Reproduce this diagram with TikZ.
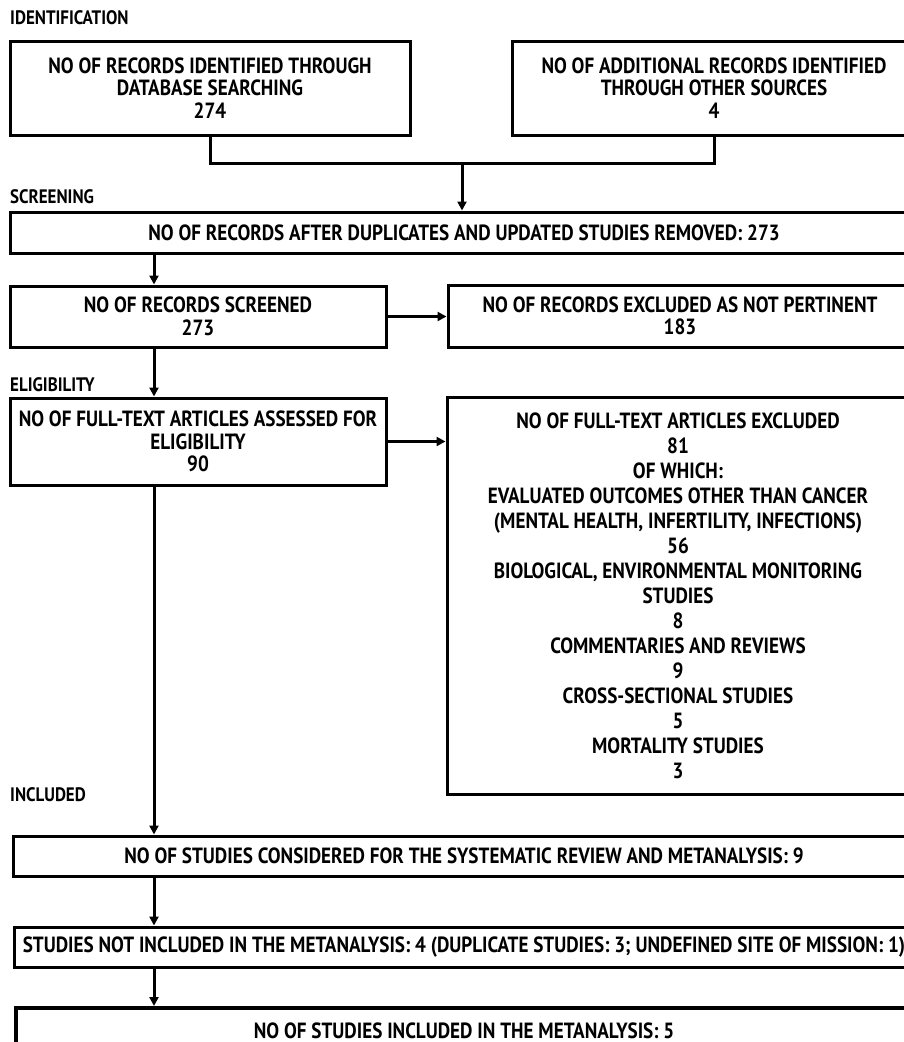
\documentclass[tikz,border=0pt]{standalone}
\usepackage{fontspec}
\setmainfont{PT Sans}[FakeStretch=0.87]
\usetikzlibrary{arrows.meta}
\begin{document}
\begin{tikzpicture}[x=1pt,y=-1pt,
  boxst/.style={draw=black, line width=3pt, rectangle, inner sep=0pt, align=center,
    font=\bfseries\fontsize{22}{22.5}\selectfont, text=black},
  lbl/.style={anchor=west, inner sep=0pt, font=\bfseries\fontsize{19.5}{20}\selectfont, text=black},
  conn/.style={line width=3pt},
  arr/.style={line width=3pt, -{Triangle[length=9pt,width=9pt]}}]
\useasboundingbox (0,0) rectangle (904,1042);
\clip (0,0) rectangle (904,1042);
\fill[white] (0,0) rectangle (904,1042);

\node[lbl] (l1) at (10,18) {IDENTIFICATION};
\node[lbl] (l2) at (10,197) {SCREENING};
\node[lbl] (l3) at (10,385) {ELIGIBILITY};
\node[lbl] (l4) at (10,795) {INCLUDED};

\node[boxst, minimum width=400pt, minimum height=94pt] (A) at (210,88)
  {NO OF RECORDS IDENTIFIED THROUGH\\DATABASE SEARCHING\\274};
\node[boxst, minimum width=404pt, minimum height=94pt] (B) at (714,88)
  {NO OF ADDITIONAL RECORDS IDENTIFIED\\THROUGH OTHER SOURCES\\4};
\node[boxst, minimum width=908pt, minimum height=41pt] (C) at (464,232.5)
  {NO OF RECORDS AFTER DUPLICATES AND UPDATED STUDIES REMOVED: 273};
\node[boxst, minimum width=376pt, minimum height=61pt] (D) at (198,316.5)
  {NO OF RECORDS SCREENED\\273};
\node[boxst, minimum width=464pt, minimum height=62pt] (E) at (680,316)
  {NO OF RECORDS EXCLUDED AS NOT PERTINENT\\183};
\node[boxst, minimum width=376pt, minimum height=87pt] (F) at (198,441.5)
  {NO OF FULL-TEXT ARTICLES ASSESSED FOR\\ELIGIBILITY\\90};
\node[boxst, minimum width=462pt, minimum height=397pt,
  font=\bfseries\fontsize{22}{25}\selectfont] (G) at (678,595.5)
  {NO OF FULL-TEXT ARTICLES EXCLUDED\\81\\OF WHICH:\\EVALUATED OUTCOMES OTHER THAN CANCER\\(MENTAL HEALTH, INFERTILITY, INFECTIONS)\\56\\BIOLOGICAL, ENVIRONMENTAL MONITORING\\STUDIES\\8\\COMMENTARIES AND REVIEWS\\9\\CROSS-SECTIONAL STUDIES\\5\\MORTALITY STUDIES\\3};
\node[boxst, minimum width=902pt, minimum height=40pt] (H) at (464,856)
  {NO OF STUDIES CONSIDERED FOR THE SYSTEMATIC REVIEW AND METANALYSIS: 9};
\node[boxst, minimum width=900pt, minimum height=40pt] (I) at (464,947)
  {STUDIES NOT INCLUDED IN THE METANALYSIS: 4 (DUPLICATE STUDIES: 3; UNDEFINED SITE OF MISSION: 1)};
\node[boxst, line width=4pt, minimum width=896pt, minimum height=46pt] (J) at (464,1031)
  {NO OF STUDIES INCLUDED IN THE METANALYSIS: 5};

\coordinate (jn) at (462,163);
\coordinate (ax) at (154,0);

\draw[conn] (A.south) |- (jn) -| (B.south);
\draw[arr] (jn) -- (jn |- C.north);
\draw[arr] (C.south -| ax) -- (D.north -| ax);
\draw[arr] (D.east) -- (D.east -| E.west);
\draw[arr] (D.south -| ax) -- (F.north -| ax);
\draw[arr] (F.east) -- (F.east -| G.west);
\draw[arr] (F.south -| ax) -- (H.north -| ax);
\draw[arr] (H.south -| ax) -- (I.north -| ax);
\draw[arr] (I.south -| ax) -- (J.north -| ax);
\end{tikzpicture}
\end{document}
